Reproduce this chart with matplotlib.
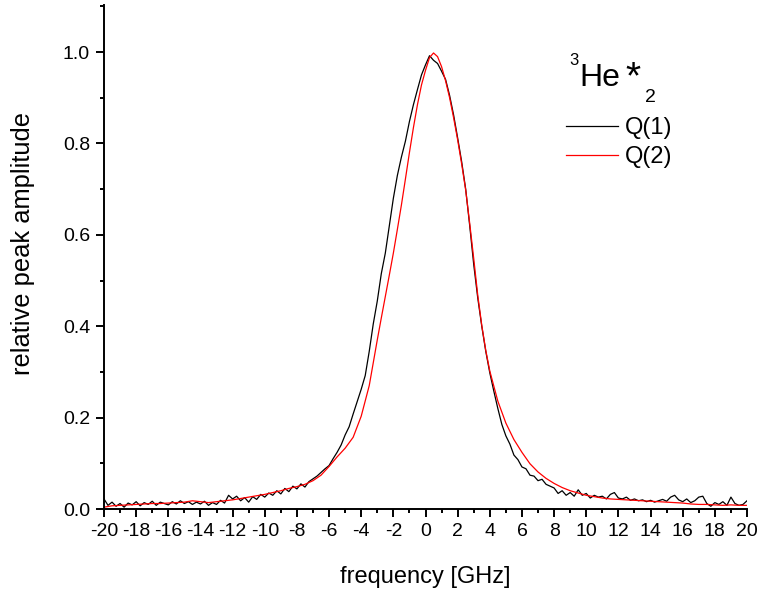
import numpy as np
import matplotlib
matplotlib.use("Agg")
import matplotlib.pyplot as plt
from matplotlib.ticker import MultipleLocator

plt.rcParams['font.family'] = ['Liberation Sans', 'DejaVu Sans']

# ---- data ----
q1_amp = [
    0.022, 0.008, 0.015, 0.006, 0.012, 0.004, 0.013, 0.009, 0.016, 0.007,
    0.014, 0.010, 0.017, 0.008, 0.015, 0.012, 0.009, 0.016, 0.011, 0.018,
    0.012, 0.016, 0.010, 0.015, 0.011, 0.017, 0.008, 0.014, 0.010, 0.019,
    0.013, 0.030, 0.022, 0.028, 0.018, 0.025, 0.015, 0.027, 0.021, 0.032,
    0.026, 0.035, 0.030, 0.040, 0.033, 0.045, 0.038, 0.050, 0.044, 0.055,
    0.048, 0.060, 0.066, 0.072, 0.080, 0.088, 0.095, 0.110, 0.124, 0.140,
    0.162, 0.180, 0.208, 0.235, 0.262, 0.292, 0.345, 0.405, 0.455, 0.515,
    0.560, 0.620, 0.680, 0.730, 0.770, 0.805, 0.848, 0.885, 0.918, 0.950,
    0.972, 0.992, 0.982, 0.975, 0.958, 0.940, 0.905, 0.862, 0.812, 0.760,
    0.700, 0.620, 0.535, 0.462, 0.400, 0.345, 0.298, 0.258, 0.220, 0.185,
    0.160, 0.142, 0.118, 0.108, 0.092, 0.088, 0.074, 0.072, 0.062, 0.065,
    0.054, 0.050, 0.046, 0.034, 0.040, 0.030, 0.036, 0.028, 0.042, 0.030,
    0.034, 0.024, 0.030, 0.026, 0.028, 0.022, 0.032, 0.036, 0.024, 0.022,
    0.026, 0.019, 0.022, 0.018, 0.020, 0.016, 0.019, 0.015, 0.018, 0.021,
    0.017, 0.026, 0.030, 0.020, 0.016, 0.022, 0.014, 0.018, 0.026, 0.028,
    0.012, 0.006, 0.014, 0.010, 0.016, 0.008, 0.026, 0.012, 0.008, 0.010,
    0.018,
]
q1_freq = np.linspace(-20, 20, len(q1_amp))

q2_freq = [
    -20, -19.5, -19, -18.5, -18, -17.5, -17, -16.5, -16, -15.5, -15, -14.5,
    -14, -13.5, -13, -12.5, -12, -11.5, -11, -10.5, -10, -9.5, -9, -8.5, -8,
    -7.5, -7, -6.5, -6, -5.5, -5, -4.5, -4, -3.5,
    -3.0, -2.75, -2.5, -2.25, -2.0, -1.75, -1.5, -1.25, -1.0, -0.75, -0.5,
    -0.25, 0.0, 0.25, 0.5, 0.75, 1.0, 1.25, 1.5, 1.75, 2.0, 2.25, 2.5, 2.75,
    3.0, 3.25, 3.5, 3.75, 4.0,
    4.5, 5, 5.5, 6, 6.5, 7, 7.5, 8, 8.5, 9, 9.5, 10, 10.5, 11, 11.5, 12,
    12.5, 13, 13.5, 14, 14.5, 15, 15.5, 16, 16.5, 17, 17.5, 18, 18.5, 19,
    19.5, 20,
]
q2_amp = [
    0.004, 0.007, 0.008, 0.009, 0.010, 0.011, 0.012, 0.012, 0.013, 0.014,
    0.015, 0.018, 0.016, 0.014, 0.016, 0.018, 0.020, 0.023, 0.026, 0.029,
    0.032, 0.036, 0.040, 0.045, 0.049, 0.054, 0.062, 0.074, 0.093, 0.114,
    0.133, 0.157, 0.203, 0.270,
    0.370, 0.418, 0.465, 0.512, 0.560, 0.612, 0.665, 0.722, 0.780, 0.835,
    0.885, 0.928, 0.960, 0.988, 0.998, 0.990, 0.968, 0.937, 0.900, 0.856,
    0.808, 0.755, 0.698, 0.625, 0.548, 0.468, 0.402, 0.347, 0.302,
    0.236, 0.188, 0.152, 0.124, 0.099, 0.081, 0.067, 0.056, 0.047, 0.040,
    0.035, 0.030, 0.027, 0.024, 0.022, 0.021, 0.020, 0.019, 0.018, 0.017,
    0.016, 0.015, 0.014, 0.013, 0.011, 0.010, 0.010, 0.009, 0.008, 0.009,
    0.008, 0.008,
]
series_labels = ["Q(1)", "Q(2)"]
x_ticks = list(range(-20, 21, 2))
y_ticks = [0.0, 0.2, 0.4, 0.6, 0.8, 1.0]

# ---- figure ----
W, H = 761, 592
fig = plt.figure(figsize=(W / 100, H / 100), dpi=100)
ax_l, ax_r, ax_t, ax_b = 104, 747, 5, 509
ax = fig.add_axes([ax_l / W, 1 - ax_b / H, (ax_r - ax_l) / W, (ax_b - ax_t) / H])

ax.plot(q1_freq, q1_amp, color='black', lw=0.9, label=series_labels[0])
ax.plot(q2_freq, q2_amp, color='red', lw=0.9, label=series_labels[1])

ax.set_xlim(-20, 20)
ax.set_ylim(0, 1.103)
ax.set_xticks(x_ticks)
ax.set_xticklabels([str(t) for t in x_ticks])
ax.set_yticks(y_ticks)
ax.set_yticklabels([f"{t:.1f}" for t in y_ticks])
ax.xaxis.set_minor_locator(MultipleLocator(1))
ax.yaxis.set_minor_locator(MultipleLocator(0.1))

for s in ('top', 'right'):
    ax.spines[s].set_visible(False)
for s in ('left', 'bottom'):
    ax.spines[s].set_linewidth(1.4)

ax.tick_params(which='major', direction='out', length=6, width=1.4,
               labelsize=14, pad=4)
ax.tick_params(which='minor', direction='out', length=3, width=1.4)

ax.set_xlabel("frequency [GHz]", fontsize=17, labelpad=19)
ax.set_ylabel("relative peak amplitude", fontsize=18.4)
ax.yaxis.set_label_coords((35 - ax_l) / (ax_r - ax_l),
                          (ax_b - 243.5) / (ax_b - ax_t))

leg = ax.legend(loc='upper left', bbox_to_anchor=(566 / W, 1 - 117 / H),
                bbox_transform=fig.transFigure, frameon=False, fontsize=17,
                handlelength=2.2, handletextpad=0.3, labelspacing=0.3,
                borderpad=0, borderaxespad=0)

# species label ^3He*_2
fig.text(569 / W, 1 - 65 / H, "3", fontsize=12, ha='left', va='baseline')
fig.text(579 / W, 1 - 86 / H, "He", fontsize=23, ha='left', va='baseline')
fig.text(625 / W, 1 - 88 / H, "*", fontsize=28, ha='left', va='baseline')
fig.text(645 / W, 1 - 102 / H, "2", fontsize=14, ha='left', va='baseline')

fig.savefig("out.png", dpi=100)
